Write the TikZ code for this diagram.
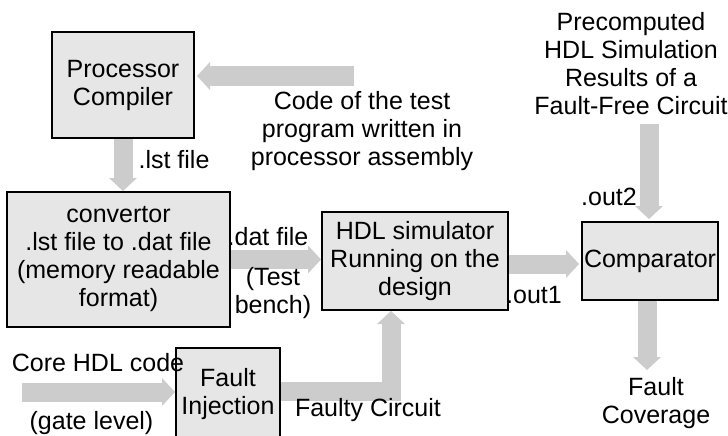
\documentclass[tikz,border=0pt]{standalone}
\usepackage{fontspec}
\setmainfont{Liberation Sans}
\usepackage{tikz}
\usetikzlibrary{arrows.meta}
\definecolor{boxgray}{RGB}{230,230,230}
\definecolor{arrowgray}{RGB}{204,204,204}

\begin{document}
\begin{tikzpicture}[x=1pt,y=-1pt,font=\fontsize{25}{28}\selectfont,
  box/.style={draw,line width=2pt,fill=boxgray,inner sep=0pt,align=center},
  lbl/.style={inner sep=0pt,align=center},
  flow/.style={line width=19pt,color=arrowgray,line cap=butt,
    -{Triangle[length=13pt,width=28pt,line width=0pt]}}]
  \useasboundingbox (0,0) rectangle (728,436);

  \node[box,minimum width=142pt,minimum height=106pt] (proc) at (123,85) {Processor\\Compiler};
  \node[box,minimum width=223pt,minimum height=135pt] (conv) at (118.5,259.5) {convertor\\.lst file to .dat file\\(memory readable\\format)};
  \node[box,minimum width=186pt,minimum height=98pt] (hdl) at (415,261) {HDL simulator\\Running on the\\design};
  \node[box,minimum width=136pt,minimum height=78pt] (comp) at (650,261) {Comparator};
  \node[box,minimum width=104pt,minimum height=92pt] (fault) at (228,394) {Fault\\Injection};

  \coordinate (codein) at (354,76);
  \coordinate (prein) at (649,124);
  \coordinate (corein) at (22,392);
  \coordinate (covout) at (647,370);

  \draw[flow] (codein) -- ([xshift=2pt]codein -| proc.east);
  \draw[flow] (proc.south) -- (proc.south |- conv.north);
  \draw[flow] (conv.east) -- (conv.east -| hdl.west);
  \draw[flow] ([yshift=-3pt]hdl.east) -- ([xshift=-2pt,yshift=-3pt]comp.west);
  \draw[flow] (prein) -- ([yshift=2pt]prein |- comp.north);
  \draw[flow] (comp.south -| covout) -- (covout);
  \draw[flow] (corein) -- (corein -| fault.west);
  \draw[flow] ([yshift=3pt]fault.east) -| ([xshift=-24pt]hdl.south);

  \node[lbl] (code) at (362,131) {Code of the test\\program written in\\processor assembly};
  \node[lbl] (lst) at (174,160) {.lst file};
  \node[lbl] (dat) at (268,237) {.dat file};
  \node[lbl] (bench) at (273,293) {(Test\\bench)};
  \node[lbl] (out1) at (534,295) {.out1};
  \node[lbl] (out2) at (609,197) {.out2};
  \node[lbl] (pre) at (631,64) {Precomputed\\HDL Simulation\\Results of a\\Fault-Free Circuit};
  \node[lbl] (core) at (98,363) {Core HDL code};
  \node[lbl] (gate) at (91.5,423) {(gate level)};
  \node[lbl] (faulty) at (368,410) {Faulty Circuit};
  \node[lbl] (cov) at (656,403) {Fault\\Coverage};
\end{tikzpicture}
\end{document}
